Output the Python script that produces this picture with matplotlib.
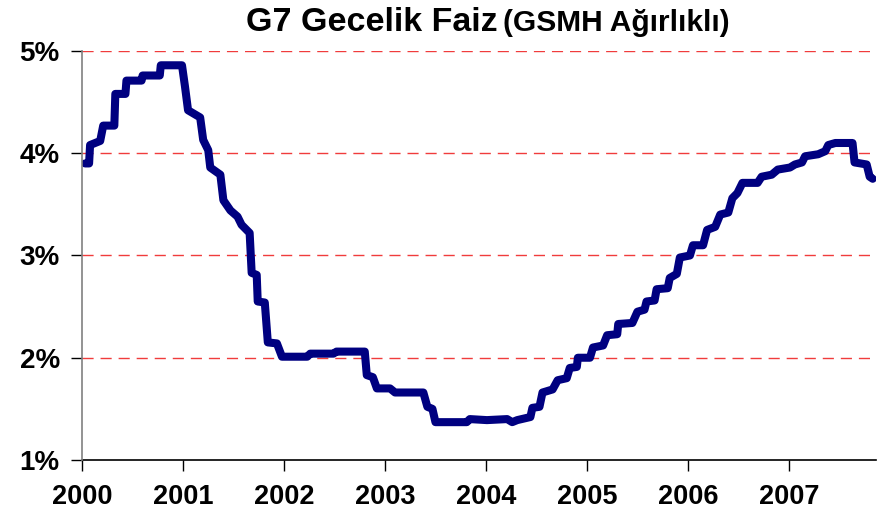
import matplotlib.pyplot as plt
from matplotlib.ticker import FuncFormatter

# G7 overnight rate (GDP weighted), decimal years
years = [2000.03, 2000.07, 2000.08, 2000.18, 2000.21, 2000.32, 2000.33, 2000.43,
         2000.44, 2000.59, 2000.60, 2000.77, 2000.78, 2000.99, 2001.02, 2001.05,
         2001.17, 2001.20, 2001.25, 2001.27, 2001.37, 2001.40, 2001.47, 2001.54,
         2001.58, 2001.66, 2001.68, 2001.73, 2001.74, 2001.81, 2001.84, 2001.93,
         2001.98, 2002.23, 2002.26, 2002.49, 2002.52, 2002.80, 2002.82, 2002.88,
         2002.92, 2003.05, 2003.10, 2003.38, 2003.42, 2003.47, 2003.50, 2003.81,
         2003.84, 2004.01, 2004.21, 2004.26, 2004.31, 2004.44, 2004.46, 2004.53,
         2004.56, 2004.66, 2004.71, 2004.80, 2004.83, 2004.90, 2004.91, 2005.03,
         2005.06, 2005.16, 2005.20, 2005.30, 2005.31, 2005.45, 2005.50, 2005.57,
         2005.59, 2005.67, 2005.69, 2005.80, 2005.82, 2005.89, 2005.92, 2006.02,
         2006.05, 2006.15, 2006.19, 2006.27, 2006.32, 2006.40, 2006.44, 2006.49,
         2006.54, 2006.69, 2006.73, 2006.83, 2006.89, 2007.01, 2007.06, 2007.13,
         2007.16, 2007.29, 2007.36, 2007.39, 2007.46, 2007.63, 2007.65, 2007.77,
         2007.80, 2007.83]
rate = [3.90, 3.90, 4.08, 4.12, 4.27, 4.27, 4.58, 4.58,
        4.71, 4.71, 4.76, 4.76, 4.86, 4.86, 4.65, 4.42,
        4.35, 4.13, 4.03, 3.86, 3.79, 3.54, 3.44, 3.38,
        3.30, 3.22, 2.83, 2.81, 2.55, 2.54, 2.15, 2.14,
        2.01, 2.01, 2.04, 2.04, 2.06, 2.06, 1.83, 1.81,
        1.70, 1.70, 1.66, 1.66, 1.52, 1.50, 1.37, 1.37,
        1.40, 1.39, 1.40, 1.37, 1.39, 1.42, 1.51, 1.52,
        1.66, 1.69, 1.78, 1.80, 1.90, 1.91, 2.00, 2.00,
        2.10, 2.12, 2.22, 2.23, 2.33, 2.34, 2.45, 2.47,
        2.55, 2.56, 2.67, 2.68, 2.78, 2.82, 2.98, 3.00,
        3.10, 3.10, 3.25, 3.28, 3.40, 3.42, 3.56, 3.61,
        3.71, 3.71, 3.77, 3.79, 3.84, 3.86, 3.89, 3.91,
        3.97, 3.99, 4.02, 4.08, 4.10, 4.10, 3.91, 3.89,
        3.77, 3.75]

year_ticks = [2000, 2001, 2002, 2003, 2004, 2005, 2006, 2007]
pct_ticks = [1, 2, 3, 4, 5]

plt.rcParams['font.family'] = ['Liberation Sans', 'DejaVu Sans']
plt.rcParams['font.weight'] = 'bold'

fig = plt.figure(figsize=(8.79, 5.20), dpi=100)
ax = fig.add_axes([0.0933, 0.1154, 0.903, 0.7866])

# red dashed gridlines
for p in pct_ticks[1:]:
    ax.axhline(p, color='#f03c3c', lw=1.0, dashes=(8, 5), zorder=1)

ax.plot(years, rate, color='#000080', lw=5.8, solid_joinstyle='round',
        solid_capstyle='round', zorder=3)

ax.set_xlim(2000, 2007.86)
ax.set_ylim(1, 5)
ax.set_xticks(year_ticks)
ax.set_xticklabels([str(y) for y in year_ticks])
ax.set_yticks(pct_ticks)
ax.yaxis.set_major_formatter(FuncFormatter(lambda v, pos: '%d%%' % v))

for s in ['top', 'right']:
    ax.spines[s].set_visible(False)
ax.spines['left'].set_color('#808080')
ax.spines['left'].set_linewidth(1.2)
ax.spines['bottom'].set_color('black')
ax.spines['bottom'].set_linewidth(1.2)
ax.spines['left'].set_zorder(4)

ax.tick_params(axis='x', direction='out', length=8, width=1, pad=9,
               labelsize=19.5, colors='black')
ax.tick_params(axis='y', direction='out', length=8, width=1, pad=8,
               labelsize=20, colors='black')
for lab in ax.get_xticklabels() + ax.get_yticklabels():
    lab.set_fontweight('bold')

fig.text(0.566, 0.957, 'G7 Gecelik Faiz', ha='right', va='center',
         fontsize=24.5, fontweight='bold')
fig.text(0.572, 0.955, '(GSMH Ağırlıklı)', ha='left', va='center',
         fontsize=21.5, fontweight='bold')

fig.savefig('out.png', dpi=100)
